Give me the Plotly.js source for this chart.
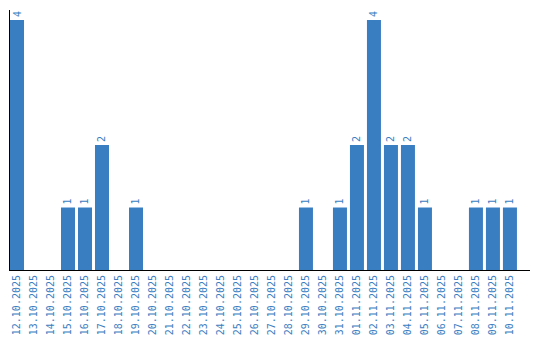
<!DOCTYPE html>
<html><head><meta charset="utf-8">
<script src="https://cdn.plot.ly/plotly-3.0.1.min.js"></script>
<style>html,body{margin:0;padding:0;background:#fff}</style>
</head><body><div id="chart" style="width:540px;height:340px"></div>
<script>
const dates = ["12.10.2025","13.10.2025","14.10.2025","15.10.2025","16.10.2025","17.10.2025","18.10.2025","19.10.2025","20.10.2025","21.10.2025","22.10.2025","23.10.2025","24.10.2025","25.10.2025","26.10.2025","27.10.2025","28.10.2025","29.10.2025","30.10.2025","31.10.2025","01.11.2025","02.11.2025","03.11.2025","04.11.2025","05.11.2025","06.11.2025","07.11.2025","08.11.2025","09.11.2025","10.11.2025"];
const counts = [4,0,0,1,1,2,0,1,0,0,0,0,0,0,0,0,0,1,0,1,2,4,2,2,1,0,0,1,1,1];
const labels = counts.map(v => v > 0 ? String(v) : "");
const blue = "#3a7ec2";
Plotly.newPlot("chart", [{
  type: "bar", x: dates, y: counts, text: labels,
  textposition: "outside", textangle: -90, cliponaxis: false,
  textfont: {family: "DejaVu Sans Mono", size: 10, color: blue},
  marker: {color: blue}, hoverinfo: "none"
}], {
  width: 540, height: 340,
  margin: {l: 10, r: 10, t: 10, b: 70},
  paper_bgcolor: "#fff", plot_bgcolor: "#fff",
  bargap: 0.176, showlegend: false,
  xaxis: {type: "category", range: [-0.412, 30.18], showline: true, linecolor: "#000", linewidth: 1,
          ticks: "", tickangle: -90, showgrid: false, zeroline: false,
          tickfont: {family: "DejaVu Sans Mono", size: 10, color: blue}},
  yaxis: {range: [0, 4.16], showline: true, linecolor: "#000", linewidth: 1, showticklabels: false,
          ticks: "", showgrid: false, zeroline: false}
}, {staticPlot: true});
</script></body></html>
